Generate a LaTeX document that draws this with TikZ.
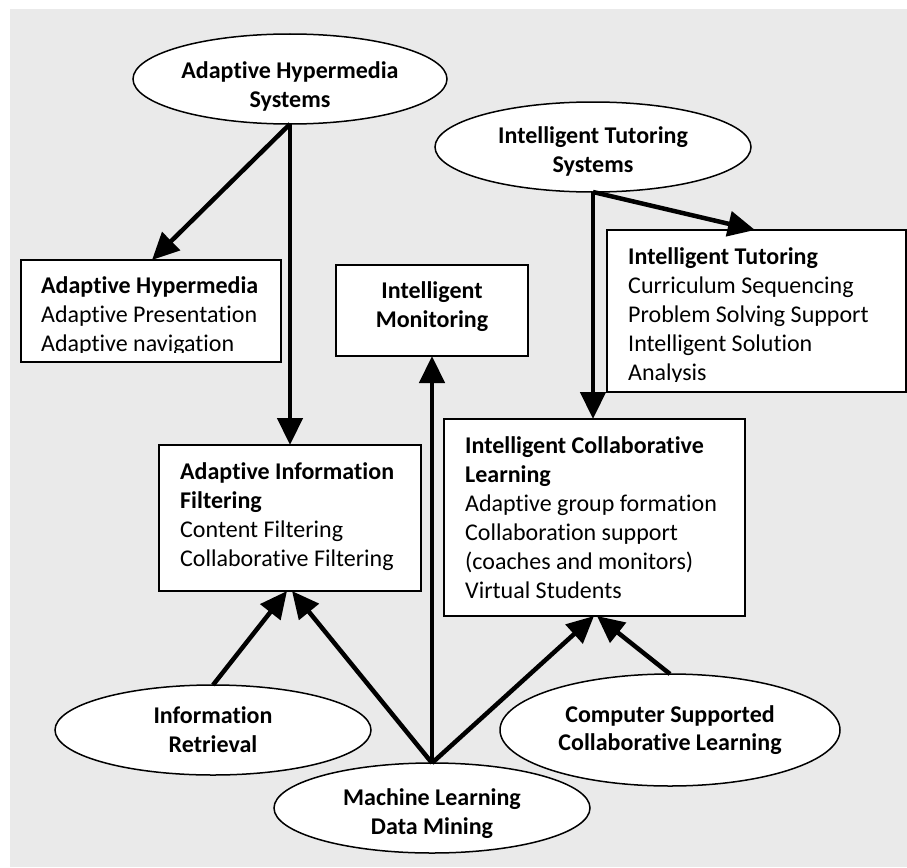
\documentclass[tikz,border=0pt]{standalone}
\usepackage{fontspec}
\setmainfont{Carlito}[Ligatures=NoCommon]
\usetikzlibrary{arrows.meta,calc,shapes.geometric}
\definecolor{panel}{HTML}{EAEAEA}
\begin{document}
\begin{tikzpicture}[x=1pt,y=-1pt,
  box/.style={draw=black,line width=1.5pt,fill=white,inner sep=0pt,outer sep=0pt,anchor=north west},
  oval/.style={ellipse,draw=black,line width=1.5pt,fill=white,inner sep=0pt,outer sep=0pt},
  head/.style={font=\fontsize{24}{29}\selectfont\bfseries,inner sep=0pt,anchor=base west},
  item/.style={font=\fontsize{24}{29}\selectfont,inner sep=0pt,anchor=base west},
  ctr/.style={font=\fontsize{24}{29}\selectfont\bfseries,inner sep=0pt,anchor=base},
  link/.style={line width=4.5pt,-{Triangle[length=27pt,width=25pt]}}]
\useasboundingbox (0,0) rectangle (907,867);
\fill[white] (0,0) rectangle (907,867);
\fill[panel] (10,9) rectangle (907,867);

% ---- boxes ----
\node[box,minimum width=260pt,minimum height=102pt] (AH)  at (21,260)  {};
\node[box,minimum width=192pt,minimum height=91pt]  (IM)  at (336,265) {};
\node[box,minimum width=299pt,minimum height=162pt] (IT)  at (607,230) {};
\node[box,minimum width=262pt,minimum height=146pt] (AIF) at (159,445) {};
\node[box,minimum width=301pt,minimum height=197pt] (ICL) at (444,419) {};

% ---- ellipses ----
\node[oval,minimum width=314pt,minimum height=90pt]  (AHS)  at (290,79)  {};
\node[oval,minimum width=316pt,minimum height=90pt]  (ITS)  at (593,147) {};
\node[oval,minimum width=316pt,minimum height=90pt]  (IR)   at (213,730) {};
\node[oval,minimum width=340pt,minimum height=112pt] (CSCL) at (670,730) {};
\node[oval,minimum width=316pt,minimum height=90pt]  (MLDM) at (432,808) {};

% ---- box contents (text is clipped to the inner area) ----
\begin{scope}
  \clip (AH.north west) rectangle ($(AH.south east)+(0,-10)$);
  \node[head] (AH-1) at (41,293) {Adaptive Hypermedia};
  \node[item] (AH-2) at (41,322) {Adaptive Presentation};
  \node[item] (AH-3) at (41,351) {Adaptive navigation};
\end{scope}

\node[ctr] (IM-1) at (432,298) {Intelligent};
\node[ctr] (IM-2) at (432,327) {Monitoring};

\begin{scope}
  \clip (IT.north west) rectangle ($(IT.south east)+(0,-11)$);
  \node[head] (IT-1) at (628,264) {Intelligent Tutoring};
  \node[item] (IT-2) at (628,293) {Curriculum Sequencing};
  \node[item] (IT-3) at (628,322) {Problem Solving Support};
  \node[item] (IT-4) at (628,351) {Intelligent Solution};
  \node[item] (IT-5) at (628,380) {Analysis};
\end{scope}

\node[head] (AIF-1) at (180,479) {Adaptive Information};
\node[head] (AIF-2) at (180,508) {Filtering};
\node[item] (AIF-3) at (180,537) {Content Filtering};
\node[item] (AIF-4) at (180,566) {Collaborative Filtering};

\node[head] (ICL-1) at (465,453) {Intelligent Collaborative};
\node[head] (ICL-2) at (465,482) {Learning};
\node[item] (ICL-3) at (465,511) {Adaptive group formation};
\node[item] (ICL-4) at (465,540) {Collaboration support};
\node[item] (ICL-5) at (465,569) {(coaches and monitors)};
\node[item] (ICL-6) at (465,598) {Virtual Students};

% ---- ellipse labels ----
\node[ctr] (AHS-1) at (290,78)  {Adaptive Hypermedia};
\node[ctr] (AHS-2) at (290,107) {Systems};
\node[ctr] (ITS-1) at (593,143) {Intelligent Tutoring};
\node[ctr] (ITS-2) at (593,172) {Systems};
\node[ctr] (IR-1)  at (213,723) {Information};
\node[ctr] (IR-2)  at (213,752) {Retrieval};
\node[ctr] (CSCL-1) at (670,722) {Computer Supported};
\node[ctr] (CSCL-2) at (670,750) {Collaborative Learning};
\node[ctr] (MLDM-1) at (432,805) {Machine Learning};
\node[ctr] (MLDM-2) at (432,834) {Data Mining};

% ---- connectors ----
\draw[link] (AHS.south) -- ($(AH.north west)+(131,0)$);
\draw[link] (AHS.south) -- (AHS.south |- AIF.north);
\draw[link] (ITS.south) -- ($(IT.north west)+(148,0)$);
\draw[link] (ITS.south) -- (ITS.south |- ICL.north);
\draw[link] (MLDM.north) -- (IM.south);
\draw[link] (MLDM.north) -- ($(AIF.south west)+(133,0)$);
\draw[link] (IR.north) -- ($(AIF.south west)+(128,0)$);
\draw[link] (MLDM.north) -- ($(ICL.south west)+(150,0)$);
\draw[link] (CSCL.north) -- ($(ICL.south west)+(153,0)$);
\end{tikzpicture}
\end{document}
